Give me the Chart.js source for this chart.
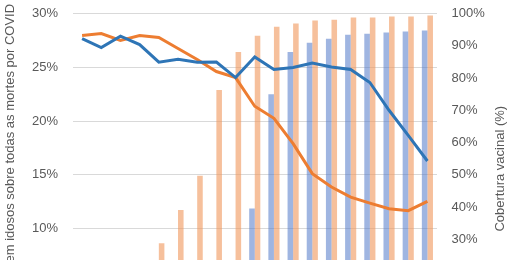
<!DOCTYPE html>
<html>
<head>
<meta charset="utf-8">
<script src="https://cdn.jsdelivr.net/npm/chart.js@4/dist/chart.umd.min.js"></script>
<style>
  html, body { margin: 0; padding: 0; overflow: hidden; background: #fff; }
  #wrap { width: 517px; height: 398px; }
</style>
</head>
<body>
<div id="wrap"><canvas id="chart" width="517" height="398"></canvas></div>
<script>
// semanas epidemiológicas
const categorias = ['SE 1', 'SE 2', 'SE 3', 'SE 4', 'SE 5', 'SE 6', 'SE 7', 'SE 8', 'SE 9', 'SE 10',
  'SE 11', 'SE 12', 'SE 13', 'SE 14', 'SE 15', 'SE 16', 'SE 17', 'SE 18', 'SE 19'];

// % de mortes (eixo esquerdo)
const obitos80 = [27.95, 28.14, 27.5, 27.95, 27.77, 26.74, 25.72, 24.6, 24.04, 21.37,
  20.25, 17.9, 15.1, 13.86, 12.92, 12.36, 11.84, 11.66, 12.52];
const obitos7079 = [27.67, 26.83, 27.89, 27.11, 25.47, 25.74, 25.47, 25.49, 24.04, 25.96,
  24.79, 24.97, 25.4, 25.03, 24.79, 23.58, 21.0, 18.67, 16.28];

// cobertura vacinal (eixo direito)
const cobertura80 = [0, 1, 8, 18, 28.75, 39.1, 49.7, 76.25, 88.1, 93.1,
  95.9, 96.9, 97.8, 98.1, 98.75, 98.75, 99.1, 99.1, 99.4];
const cobertura7079 = [0, 0, 0, 0, 0, 0, 2, 8, 18, 39.5,
  75, 88.1, 90.9, 92.2, 93.4, 93.75, 94.1, 94.4, 94.7];

const tituloEsq = '% das mortes em idosos sobre todas as mortes por COVID';
const tituloDir = 'Cobertura vacinal (%)';

const fonte = '"Liberation Sans", Arial, sans-serif';
const cinza = '#595959';

const rightTitle = {
  id: 'rightTitle',
  afterDraw(chart) {
    const { ctx, chartArea } = chart;
    ctx.save();
    ctx.translate(500.5, (chartArea.top + chartArea.bottom) / 2 - 6);
    ctx.rotate(-Math.PI / 2);
    ctx.font = '13px ' + fonte;
    ctx.fillStyle = cinza;
    ctx.textAlign = 'center';
    ctx.textBaseline = 'middle';
    ctx.fillText(tituloDir, 0, 0);
    ctx.restore();
  }
};

new Chart(document.getElementById('chart'), {
  type: 'bar',
  data: {
    labels: categorias,
    datasets: [
      {
        type: 'line', label: 'Óbitos 70-79', data: obitos7079, yAxisID: 'y',
        borderColor: '#2E75B6', borderWidth: 3, pointRadius: 0, tension: 0, order: 0
      },
      {
        type: 'line', label: 'Óbitos 80+', data: obitos80, yAxisID: 'y',
        borderColor: '#ED7D31', borderWidth: 3, pointRadius: 0, tension: 0, order: 0
      },
      {
        label: 'Cob. 70-79', data: cobertura7079, yAxisID: 'y1',
        backgroundColor: 'rgba(80,120,200,0.55)', order: 1,
        barPercentage: 1, categoryPercentage: 0.58
      },
      {
        label: 'Cob. 80+', data: cobertura80, yAxisID: 'y1',
        backgroundColor: 'rgba(240,150,90,0.6)', order: 1,
        barPercentage: 1, categoryPercentage: 0.58
      }
    ]
  },
  options: {
    responsive: false,
    animation: false,
    layout: { padding: { top: 13.5, left: 0, right: 0, bottom: 0 } },
    plugins: {
      legend: {
        position: 'bottom',
        labels: { font: { family: fonte, size: 12 }, color: cinza, boxWidth: 12, boxHeight: 12, padding: 10 }
      },
      tooltip: { enabled: false }
    },
    scales: {
      x: {
        grid: { display: false },
        border: { display: false },
        ticks: { font: { family: fonte, size: 12 }, color: cinza },
        afterFit(scale) { scale.height = 30; }
      },
      y: {
        position: 'left',
        min: 0, max: 30,
        ticks: { stepSize: 5, padding: 14.5, color: cinza, font: { family: fonte, size: 13 },
          callback: v => v + '%' },
        grid: { color: '#d9d9d9', lineWidth: 1, drawTicks: false },
        border: { display: false },
        title: { display: true, text: tituloEsq, color: cinza, font: { family: fonte, size: 13 },
          padding: { top: 3, bottom: 0 } },
        afterFit(scale) { scale.width = 72.5; scale.paddingTop = 0; scale.paddingBottom = 0; }
      },
      y1: {
        position: 'right',
        min: 0, max: 100,
        ticks: { stepSize: 10, padding: 14.5, color: cinza, font: { family: fonte, size: 13 },
          callback: v => v + '%' },
        grid: { display: false, drawTicks: false },
        border: { display: false },
        afterFit(scale) { scale.width = 80; scale.paddingTop = 0; scale.paddingBottom = 0; }
      }
    }
  },
  plugins: [rightTitle]
});
</script>
</body>
</html>
